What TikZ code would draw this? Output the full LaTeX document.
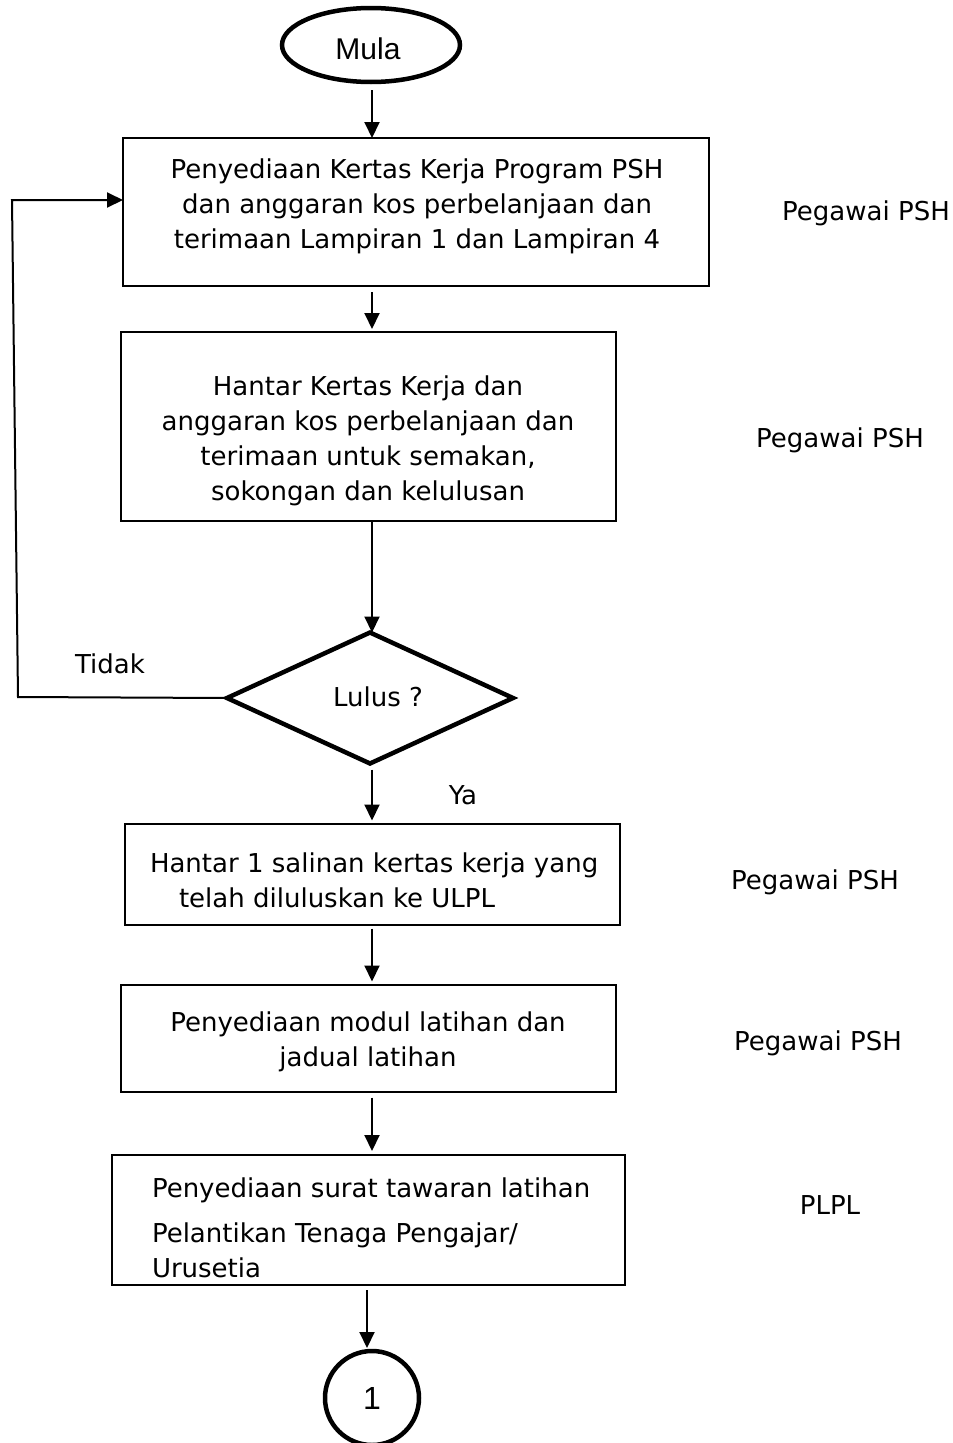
\documentclass[tikz,border=0pt]{standalone}
\usepackage{fontspec}
\setmainfont{DejaVu Sans}
\newfontfamily\arialfont{Liberation Sans}
\usetikzlibrary{arrows.meta,shapes.geometric}
\begin{document}
\begin{tikzpicture}[x=1pt,y=-1pt,
  every node/.style={font=\fontsize{26}{35}\selectfont, inner sep=0pt, outer sep=0pt},
  procbox/.style={draw, line width=2pt, rectangle},
  boxtext/.style={align=center},
  sidelabel/.style={anchor=center},
  flow/.style={line width=2pt, -{Triangle[length=16pt,width=15pt]}},
  heavy/.style={draw, line width=4.5pt}]
\useasboundingbox (0,0) rectangle (953,1443);
\coordinate (axis) at (372,0);
\coordinate (axisb) at (367,0);

% start terminal
\node[heavy, ellipse, minimum width=178pt, minimum height=74pt] (mula) at (371,45) {};
\node (mulatxt) at (368,49) {\fontsize{30}{36}\selectfont\arialfont Mula};

% process boxes
\node[procbox, minimum width=586pt, minimum height=148pt] (b1) at (416,212) {};
\node[boxtext] (t1) at (417,206) {Penyediaan Kertas Kerja Program PSH\\
  dan anggaran kos perbelanjaan dan\\ terimaan Lampiran 1 dan Lampiran 4};

\node[procbox, minimum width=495pt, minimum height=189pt] (b2) at (368.5,426.5) {};
\node[boxtext] (t2) at (368,441) {Hantar Kertas Kerja dan\\
  anggaran kos perbelanjaan dan\\ terimaan untuk semakan,\\ sokongan dan kelulusan};

% decision
\node[heavy, diamond, minimum width=286pt, minimum height=131pt] (dia) at (370,698) {};
\node (diatxt) at (378,697) {Lulus ?};

\node[procbox, minimum width=495pt, minimum height=101pt] (b3) at (372,874) {};
\node[align=left, anchor=west] (t3) at (150,880) {Hantar 1 salinan kertas kerja yang\\
  \hspace*{29pt}telah diluluskan ke ULPL};

\node[procbox, minimum width=495pt, minimum height=107pt] (b4) at (368.5,1038) {};
\node[boxtext] (t4) at (368,1042) {Penyediaan modul latihan dan\\ jadual latihan};

\node[procbox, minimum width=513pt, minimum height=130pt] (b5) at (368.5,1220) {};
\node[align=left, anchor=west] (t5) at (152,1228) {Penyediaan surat tawaran latihan\\[10pt]
  Pelantikan Tenaga Pengajar/\\ Urusetia};

% off-page connector
\node[heavy, circle, minimum size=94pt] (conn) at (372,1398) {\fontsize{32}{38}\selectfont\arialfont 1};

% main flow
\draw[flow, shorten <=8pt] (axis |- mula.south) -- (axis |- b1.north);
\draw[flow, shorten <=6pt, shorten >=3pt] (axis |- b1.south) -- (axis |- b2.north);
\draw[flow] (axis |- b2.south) -- (axis |- dia.north);
\draw[flow, shorten <=6pt, shorten >=3pt] (axis |- dia.south) -- (axis |- b3.north);
\draw[flow, shorten <=4pt, shorten >=3pt] (axis |- b3.south) -- (axis |- b4.north);
\draw[flow, shorten <=6pt, shorten >=4pt] (axis |- b4.south) -- (axis |- b5.north);
\draw[flow, shorten <=5pt, shorten >=3pt] (axisb |- b5.south) -- (axisb |- conn.north);

% return loop for "Tidak"
\coordinate (loopbot) at (18,697);
\coordinate (looptop) at (12,200);
\draw[flow] (dia.west) -- (loopbot) -- (looptop) -- (b1.west |- looptop);

% branch labels
\node (tidak) at (110,664) {Tidak};
\node (ya) at (463,795) {Ya};

% responsibility column
\node[sidelabel] (r1) at (866,213) {Pegawai PSH};
\node[sidelabel] (r2) at (840,440) {Pegawai PSH};
\node[sidelabel] (r3) at (815,882) {Pegawai PSH};
\node[sidelabel] (r4) at (818,1043) {Pegawai PSH};
\node[sidelabel] (r5) at (830,1205) {PLPL};
\end{tikzpicture}
\end{document}
